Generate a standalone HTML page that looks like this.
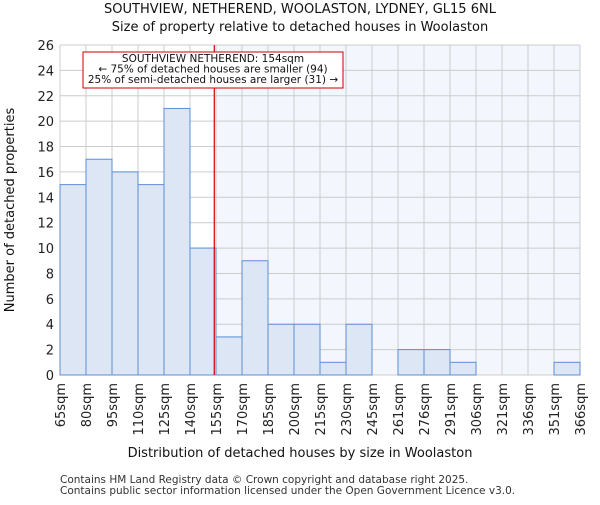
<!DOCTYPE html>
<html><head><meta charset="utf-8"><style>body{margin:0;background:#fff}svg{font-family:"DejaVu Sans","Liberation Sans",sans-serif}</style></head>
<body>
<svg id="c" width="600" height="500"></svg>
<script>
const binLabels=["65sqm","80sqm","95sqm","110sqm","125sqm","140sqm","155sqm","170sqm","185sqm","200sqm","215sqm","230sqm","245sqm","261sqm","276sqm","291sqm","306sqm","321sqm","336sqm","351sqm","366sqm"];
const counts=[15,17,16,15,21,10,3,9,4,4,1,4,0,2,2,1,0,0,0,1];
const yTicks=[0,2,4,6,8,10,12,14,16,18,20,22,24,26];
const markerValue=154;
const binStart=65, binWidth=15;
const L=60,R=580,T=45,B=375,yMax=26;
const svg=document.getElementById('c');const NS="http://www.w3.org/2000/svg";
function el(t,a,txt){const e=document.createElementNS(NS,t);for(const k in a)e.setAttribute(k,a[k]);if(txt!==undefined)e.textContent=txt;svg.appendChild(e);return e;}
const bw=(R-L)/counts.length;
const x=i=>L+i*bw;
const y=v=>B-(v/yMax)*(B-T);
const xv=v=>L+(v-binStart)/binWidth*bw;
const mx=xv(markerValue);
let e=el('rect',{x:mx,y:T,width:R-mx,height:B-T,fill:'#f3f6fd'});

yTicks.forEach(t=>{let g=el('line',{x1:L,x2:R,y1:y(t),y2:y(t),stroke:'#cccccc','stroke-width':1});

let tl=el('text',{x:L-6,y:y(t)+5,'text-anchor':'end','font-size':13,fill:'#222'},t);
});
binLabels.forEach((lb,i)=>{let g=el('line',{x1:x(i),x2:x(i),y1:T,y2:B,stroke:'#cccccc','stroke-width':1});

let tx=x(i)+5,ty=B+8;let tl=el('text',{x:tx,y:ty,'text-anchor':'end','font-size':13,fill:'#222',transform:`rotate(-90 ${tx} ${ty})`},lb);
});
counts.forEach((c,i)=>{if(c<=0)return;let b=el('rect',{x:x(i),y:y(c),width:bw,height:B-y(c),fill:'#dce6f4',stroke:'#5b8fd4','stroke-width':1});
});
e=el('line',{x1:mx,x2:mx,y1:T,y2:B,stroke:'#cc0000','stroke-width':1.2});

e=el('rect',{x:83,y:52,width:260,height:36,fill:'#fff',stroke:'#cc0000','stroke-width':1});

["SOUTHVIEW NETHEREND: 154sqm","← 75% of detached houses are smaller (94)","25% of semi-detached houses are larger (31) →"].forEach((s,i)=>{
let t=el('text',{x:213,y:62+i*10.5,'text-anchor':'middle','font-size':10.5,fill:'#111'},s);
});
e=el('text',{x:300,y:13,'text-anchor':'middle','font-size':13,fill:'#111'},"SOUTHVIEW, NETHEREND, WOOLASTON, LYDNEY, GL15 6NL");

e=el('text',{x:300,y:31,'text-anchor':'middle','font-size':13,fill:'#111'},"Size of property relative to detached houses in Woolaston");

e=el('text',{x:300,y:457,'text-anchor':'middle','font-size':13,fill:'#111'},"Distribution of detached houses by size in Woolaston");

e=el('text',{x:14,y:210,'text-anchor':'middle','font-size':13,fill:'#111',transform:'rotate(-90 14 210)'},"Number of detached properties");

e=el('text',{x:60,y:483,'font-size':10.5,fill:'#333'},"Contains HM Land Registry data © Crown copyright and database right 2025.");

e=el('text',{x:60,y:494,'font-size':10.5,fill:'#333'},"Contains public sector information licensed under the Open Government Licence v3.0.");

</script>
</body></html>
